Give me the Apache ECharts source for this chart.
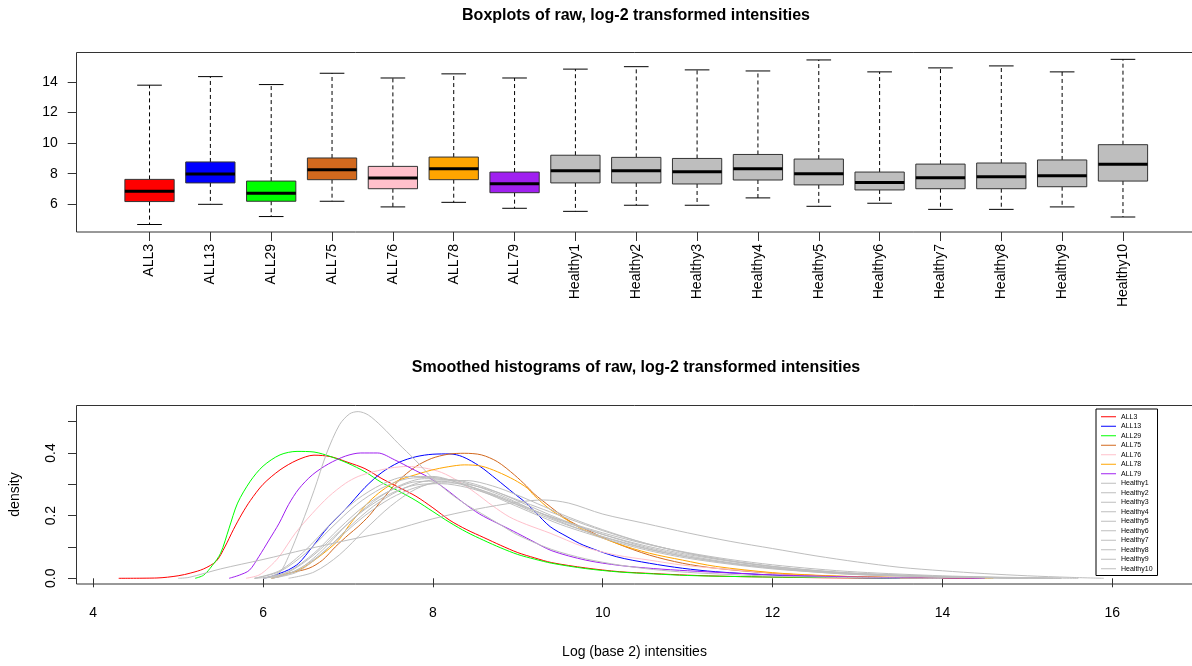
<!DOCTYPE html>
<html><head><meta charset="utf-8">
<script src="https://cdn.jsdelivr.net/npm/echarts@6/dist/echarts.min.js"></script>
<style>html,body{margin:0;padding:0;background:#fff}#c{width:1192px;height:666px}</style>
</head><body><div id="c"></div>
<script>
// ---------- data ----------
const categories = ['ALL3','ALL13','ALL29','ALL75','ALL76','ALL78','ALL79','Healthy1','Healthy2','Healthy3','Healthy4','Healthy5','Healthy6','Healthy7','Healthy8','Healthy9','Healthy10'];
const seriesColors = ['#FF0000','#0000FF','#00FF00','#D2691E','#FFC0CB','#FFA500','#A020F0','#BEBEBE','#BEBEBE','#BEBEBE','#BEBEBE','#BEBEBE','#BEBEBE','#BEBEBE','#BEBEBE','#BEBEBE','#BEBEBE'];
const lowerWhisker = [4.68,6.00,5.20,6.20,5.83,6.13,5.74,5.54,5.94,5.94,6.42,5.87,6.07,5.67,5.67,5.83,5.17];
const quartile1    = [6.18,7.40,6.20,7.61,7.02,7.61,6.76,7.40,7.40,7.33,7.59,7.27,6.94,7.02,7.02,7.15,7.52];
const medians      = [6.85,7.98,6.72,8.26,7.72,8.33,7.35,8.20,8.20,8.13,8.33,8.00,7.42,7.74,7.81,7.87,8.62];
const quartile3    = [7.63,8.77,7.52,9.03,8.48,9.09,8.11,9.21,9.07,9.00,9.26,8.96,8.11,8.63,8.70,8.90,9.90];
const upperWhisker = [13.79,14.35,13.83,14.57,14.26,14.53,14.26,14.84,15.00,14.79,14.72,15.44,14.66,14.92,15.05,14.66,15.48];
const boxTicks = [6,8,10,12,14];
const densXTicks = [4,6,8,10,12,14,16];
const densYTicks = [0,0.1,0.2,0.3,0.4,0.5];
const densYLabels = [0,0.2,0.4];

// density curves: [log2 intensity, density]
const dALL3 = [[4.3,0],[4.75,0.001],[5.0,0.008],[5.15,0.017],[5.3,0.03],[5.45,0.055],[5.55,0.1],[5.65,0.155],[5.75,0.205],[5.85,0.248],[6.0,0.3],[6.2,0.346],[6.4,0.377],[6.6,0.393],[6.8,0.388],[7.0,0.37],[7.2,0.35],[7.4,0.318],[7.6,0.29],[7.8,0.262],[8.0,0.225],[8.2,0.185],[8.4,0.155],[8.6,0.13],[8.8,0.105],[9.0,0.082],[9.2,0.065],[9.4,0.05],[9.8,0.033],[10.2,0.021],[10.6,0.015],[11.0,0.01],[11.5,0.006],[12,0.004],[12.5,0.002],[13,0.001],[14,0]];
const dALL13 = [[6.0,0],[6.1,0.006],[6.2,0.016],[6.3,0.027],[6.42,0.048],[6.58,0.1],[6.77,0.165],[6.97,0.22],[7.2,0.29],[7.4,0.338],[7.6,0.37],[7.8,0.388],[8.0,0.396],[8.2,0.397],[8.35,0.388],[8.55,0.358],[8.75,0.316],[8.95,0.272],[9.1,0.24],[9.2,0.213],[9.38,0.165],[9.58,0.133],[9.77,0.106],[10.16,0.069],[10.55,0.048],[10.94,0.032],[11.33,0.021],[12,0.01],[12.5,0.005],[13,0.002],[13.5,0]];
const dALL29 = [[5.2,0],[5.3,0.01],[5.4,0.04],[5.5,0.08],[5.6,0.16],[5.7,0.24],[5.85,0.31],[6.0,0.358],[6.2,0.394],[6.4,0.405],[6.6,0.403],[6.8,0.388],[7.0,0.367],[7.2,0.34],[7.4,0.305],[7.6,0.278],[7.8,0.248],[8.0,0.213],[8.2,0.178],[8.4,0.147],[8.6,0.121],[8.8,0.097],[9.0,0.076],[9.2,0.061],[9.4,0.048],[9.8,0.031],[10.2,0.02],[10.6,0.014],[11,0.009],[11.5,0.006],[12,0.004],[12.5,0.003],[13,0.002],[14,0.001],[14.2,0]];
const dALL75 = [[6.1,0],[6.2,0.006],[6.3,0.016],[6.54,0.032],[6.7,0.058],[6.85,0.1],[7.01,0.14],[7.12,0.165],[7.25,0.2],[7.4,0.25],[7.59,0.31],[7.79,0.355],[7.98,0.382],[8.18,0.396],[8.37,0.399],[8.57,0.394],[8.76,0.372],[8.96,0.33],[9.1,0.295],[9.19,0.27],[9.38,0.229],[9.58,0.188],[9.77,0.16],[10.16,0.112],[10.55,0.074],[10.94,0.048],[11.33,0.032],[12,0.016],[12.5,0.009],[13,0.005],[14,0.001],[14.5,0]];
const dALL76 = [[5.8,0],[5.95,0.01],[6.07,0.035],[6.19,0.069],[6.38,0.144],[6.58,0.207],[6.77,0.26],[6.97,0.303],[7.12,0.325],[7.3,0.34],[7.5,0.352],[7.7,0.357],[7.9,0.352],[8.1,0.338],[8.3,0.31],[8.5,0.273],[8.7,0.232],[8.9,0.196],[9.1,0.172],[9.38,0.144],[9.77,0.101],[10.16,0.074],[10.55,0.058],[10.94,0.042],[11.33,0.032],[12,0.017],[12.5,0.009],[13,0.004],[14,0]];
const dALL78 = [[6.1,0],[6.19,0.008],[6.42,0.026],[6.66,0.069],[6.89,0.122],[7.01,0.168],[7.12,0.205],[7.25,0.245],[7.4,0.28],[7.59,0.312],[7.79,0.33],[7.98,0.345],[8.18,0.356],[8.37,0.362],[8.57,0.358],[8.76,0.34],[8.96,0.314],[9.11,0.288],[9.19,0.265],[9.38,0.22],[9.58,0.186],[9.77,0.155],[10.16,0.112],[10.55,0.08],[10.94,0.058],[11.33,0.038],[12,0.018],[12.5,0.01],[13,0.005],[14,0.001],[14.6,0]];
const dALL79 = [[5.6,0],[5.72,0.01],[5.84,0.026],[5.95,0.069],[6.07,0.122],[6.19,0.176],[6.3,0.235],[6.42,0.285],[6.58,0.33],[6.77,0.365],[6.97,0.39],[7.15,0.4],[7.35,0.4],[7.55,0.378],[7.75,0.35],[7.95,0.322],[8.15,0.285],[8.35,0.243],[8.55,0.205],[8.75,0.177],[8.95,0.15],[9.15,0.122],[9.4,0.088],[9.8,0.058],[10.2,0.041],[10.6,0.031],[11.0,0.024],[11.5,0.017],[12,0.011],[12.5,0.007],[13,0.004],[13.5,0.002],[14.5,0]];
const dHealthy1 = [[6.0,0],[6.3,0.015],[6.6,0.06],[6.9,0.13],[7.2,0.2],[7.5,0.255],[7.8,0.29],[8.1,0.305],[8.4,0.3],[8.7,0.28],[9.0,0.25],[9.3,0.22],[9.6,0.19],[10,0.152],[10.5,0.112],[11,0.08],[11.5,0.056],[12,0.038],[12.5,0.024],[13,0.015],[14,0.005],[15,0.001],[15.3,0]];
const dHealthy2 = [[6.1,0],[6.4,0.02],[6.7,0.08],[7.0,0.16],[7.3,0.23],[7.6,0.28],[7.9,0.31],[8.2,0.315],[8.5,0.3],[8.8,0.27],[9.1,0.235],[9.4,0.2],[9.7,0.168],[10,0.14],[10.5,0.1],[11,0.072],[11.5,0.05],[12,0.034],[12.5,0.022],[13,0.013],[14,0.004],[15,0.001],[15.4,0]];
const dHealthy3 = [[6.1,0],[6.4,0.025],[6.7,0.09],[7.0,0.175],[7.3,0.245],[7.6,0.295],[7.9,0.318],[8.2,0.315],[8.5,0.295],[8.8,0.265],[9.1,0.228],[9.4,0.192],[9.7,0.16],[10,0.132],[10.5,0.095],[11,0.068],[11.5,0.048],[12,0.032],[12.5,0.02],[13,0.012],[14,0.004],[15,0]];
const dHealthy4 = [[6.3,0],[6.6,0.02],[6.9,0.075],[7.2,0.155],[7.5,0.23],[7.8,0.285],[8.1,0.31],[8.4,0.312],[8.7,0.295],[9.0,0.265],[9.3,0.23],[9.6,0.195],[10,0.155],[10.5,0.112],[11,0.08],[11.5,0.056],[12,0.038],[12.5,0.025],[13,0.015],[14,0.005],[15,0]];
const dHealthy5 = [[6.0,0],[6.3,0.02],[6.6,0.075],[6.9,0.15],[7.2,0.22],[7.5,0.27],[7.8,0.298],[8.1,0.302],[8.4,0.29],[8.7,0.265],[9.0,0.235],[9.3,0.205],[9.6,0.178],[10,0.145],[10.5,0.11],[11,0.082],[11.5,0.06],[12,0.043],[12.5,0.03],[13,0.02],[14,0.008],[15,0.002],[15.6,0]];
const dHealthy6 = [[5.9,0],[6.07,0.005],[6.2,0.02],[6.3,0.07],[6.45,0.17],[6.6,0.28],[6.75,0.4],[6.9,0.49],[7.02,0.525],[7.12,0.532],[7.24,0.521],[7.4,0.484],[7.59,0.431],[7.79,0.378],[7.98,0.324],[8.18,0.276],[8.37,0.239],[8.57,0.207],[8.8,0.17],[9.0,0.138],[9.4,0.092],[9.8,0.062],[10.2,0.042],[10.6,0.028],[11,0.019],[11.5,0.012],[12,0.007],[12.5,0.004],[13,0.002],[14,0]];
const dHealthy7 = [[5.9,0],[6.2,0.025],[6.5,0.09],[6.8,0.175],[7.1,0.25],[7.4,0.3],[7.7,0.325],[8.0,0.325],[8.3,0.305],[8.6,0.275],[8.9,0.24],[9.2,0.205],[9.5,0.172],[9.8,0.145],[10.2,0.112],[10.6,0.085],[11,0.064],[11.5,0.045],[12,0.03],[12.5,0.02],[13,0.012],[14,0.004],[15,0]];
const dHealthy8 = [[5.9,0],[6.2,0.022],[6.5,0.08],[6.8,0.16],[7.1,0.235],[7.4,0.288],[7.7,0.318],[8.0,0.322],[8.3,0.305],[8.6,0.278],[8.9,0.245],[9.2,0.21],[9.5,0.178],[9.8,0.15],[10.2,0.118],[10.6,0.09],[11,0.068],[11.5,0.048],[12,0.033],[12.5,0.022],[13,0.014],[14,0.005],[15,0.001],[15.4,0]];
const dHealthy9 = [[6.0,0],[6.3,0.022],[6.6,0.08],[6.9,0.16],[7.2,0.232],[7.5,0.28],[7.8,0.308],[8.1,0.31],[8.4,0.295],[8.7,0.27],[9.0,0.238],[9.3,0.205],[9.6,0.175],[10,0.14],[10.5,0.104],[11,0.076],[11.5,0.054],[12,0.037],[12.5,0.025],[13,0.016],[14,0.006],[15,0.001],[15.2,0]];
const dHealthy10 = [[5.0,0],[5.13,0.003],[5.5,0.03],[6.0,0.06],[6.5,0.092],[7.0,0.122],[7.5,0.152],[8.0,0.19],[8.5,0.22],[9.0,0.243],[9.3,0.25],[9.6,0.24],[10,0.205],[10.5,0.175],[11,0.145],[11.5,0.118],[12,0.095],[12.5,0.072],[13,0.052],[13.5,0.035],[14,0.024],[14.5,0.015],[15,0.008],[15.5,0.003],[15.9,0]];
const densityCurves = [dALL3,dALL13,dALL29,dALL75,dALL76,dALL78,dALL79,dHealthy1,dHealthy2,dHealthy3,dHealthy4,dHealthy5,dHealthy6,dHealthy7,dHealthy8,dHealthy9,dHealthy10];

// ---------- chart ----------
const FONT = '"Liberation Sans", Arial, sans-serif';
const chart = echarts.init(document.getElementById('c'), null, {renderer: 'canvas'});

const boxData = categories.map((c, i) => [i, lowerWhisker[i], quartile1[i], medians[i], quartile3[i], upperWhisker[i]]);

const lineSeries = categories.map((name, i) => ({
  name: name,
  type: 'line',
  xAxisIndex: 1, yAxisIndex: 1,
  data: densityCurves[i],
  symbol: 'none', showSymbol: false,
  smooth: 0.3,
  lineStyle: {width: 1, color: seriesColors[i]},
  itemStyle: {color: seriesColors[i]},
  silent: true, animation: false
}));

const option = {
  animation: false,
  backgroundColor: '#fff',
  textStyle: {fontFamily: FONT},
  title: [
    {text: 'Boxplots of raw, log-2 transformed intensities', left: 636, textAlign: 'center', top: 8, padding: 0,
     textStyle: {fontSize: 16, fontWeight: 'bold', color: '#000', fontFamily: FONT}},
    {text: 'Smoothed histograms of raw, log-2 transformed intensities', left: 636, textAlign: 'center', top: 360, padding: 0,
     textStyle: {fontSize: 16, fontWeight: 'bold', color: '#000', fontFamily: FONT}}
  ],
  legend: {
    data: categories, orient: 'vertical', left: 1096, top: 409,
    icon: 'rect', itemWidth: 15, itemHeight: 1, itemGap: 0,
    padding: [3, 5, 2, 5], borderColor: '#000', borderWidth: 1, backgroundColor: '#fff',
    textStyle: {fontSize: 7, lineHeight: 9.5, height: 9.5, color: '#000', fontFamily: FONT},
    selectedMode: false
  },
  graphic: [
    {type: 'rect', silent: true, z: 100, shape: {x: 76.5, y: 52.5, width: 1130, height: 179.5}, style: {fill: 'none', stroke: '#333', lineWidth: 1}},
    {type: 'rect', silent: true, z: 100, shape: {x: 76.5, y: 405.5, width: 1130, height: 178.5}, style: {fill: 'none', stroke: '#333', lineWidth: 1}}
  ],
  grid: [
    {left: 119.1, top: 52.3, width: 1034.3, height: 179.7},
    {left: 76.7, top: 405, width: 1120, height: 179}
  ],
  xAxis: [
    {type: 'category', gridIndex: 0, data: categories, boundaryGap: true,
     axisLine: {show: false},
     axisTick: {show: true, alignWithLabel: true, length: 9, lineStyle: {color: '#333'}},
     axisLabel: {rotate: 90, margin: 12, fontSize: 14, color: '#000', fontFamily: FONT, interval: 0},
     splitLine: {show: false}},
    {type: 'value', gridIndex: 1, min: 3.809, max: 16.939,
     axisLine: {show: false},
     axisTick: {show: true, length: 9, customValues: densXTicks, lineStyle: {color: '#333'}},
     axisLabel: {customValues: densXTicks, margin: 22, fontSize: 14, color: '#000', fontFamily: FONT},
     splitLine: {show: false},
     name: 'Log (base 2) intensities', nameLocation: 'middle', nameGap: 61,
     nameTextStyle: {fontSize: 14, color: '#000', fontFamily: FONT}}
  ],
  yAxis: [
    {type: 'value', gridIndex: 0, min: 4.19, max: 15.94, offset: 42.4,
     axisLine: {show: false},
     axisTick: {show: true, length: 9, customValues: boxTicks, lineStyle: {color: '#333'}},
     axisLabel: {customValues: boxTicks, margin: 19, fontSize: 14, color: '#000', fontFamily: FONT},
     splitLine: {show: false}},
    {type: 'value', gridIndex: 1, min: -0.0182, max: 0.5531,
     axisLine: {show: false},
     axisTick: {show: true, length: 9, customValues: densYTicks, lineStyle: {color: '#333'}},
     axisLabel: {customValues: densYLabels, rotate: 90, margin: 19, fontSize: 14, color: '#000', fontFamily: FONT,
                 formatter: v => Number(v).toFixed(1)},
     splitLine: {show: false},
     name: 'density', nameLocation: 'middle', nameGap: 55, nameRotate: 90,
     nameTextStyle: {fontSize: 14, color: '#000', fontFamily: FONT}}
  ],
  series: [
    {
      type: 'custom', name: 'boxes', xAxisIndex: 0, yAxisIndex: 0,
      data: boxData, encode: {x: 0, y: [1,2,3,4,5]}, silent: true, animation: false,
      renderItem: function (params, api) {
        const i = api.value(0);
        const lo = api.coord([i, api.value(1)]);
        const q1 = api.coord([i, api.value(2)]);
        const md = api.coord([i, api.value(3)]);
        const q3 = api.coord([i, api.value(4)]);
        const hi = api.coord([i, api.value(5)]);
        const band = api.size([1, 0])[0];
        const bw = band * 0.81;
        const cx = lo[0];
        const cap = bw / 4;
        const dash = {stroke: '#000', lineWidth: 1, lineDash: [4, 3]};
        const solid = {stroke: '#000', lineWidth: 1};
        return {type: 'group', children: [
          {type: 'line', shape: {x1: cx, y1: q3[1], x2: cx, y2: hi[1]}, style: dash},
          {type: 'line', shape: {x1: cx, y1: q1[1], x2: cx, y2: lo[1]}, style: dash},
          {type: 'line', shape: {x1: cx - cap, y1: hi[1], x2: cx + cap, y2: hi[1]}, style: solid},
          {type: 'line', shape: {x1: cx - cap, y1: lo[1], x2: cx + cap, y2: lo[1]}, style: solid},
          {type: 'rect', shape: {x: cx - bw / 2, y: q3[1], width: bw, height: q1[1] - q3[1]},
           style: {fill: seriesColors[params.dataIndex], stroke: '#333', lineWidth: 1}},
          {type: 'line', shape: {x1: cx - bw / 2, y1: md[1], x2: cx + bw / 2, y2: md[1]}, style: {stroke: '#000', lineWidth: 3}}
        ]};
      }
    }
  ].concat(lineSeries)
};
chart.setOption(option);
</script>
</body></html>
